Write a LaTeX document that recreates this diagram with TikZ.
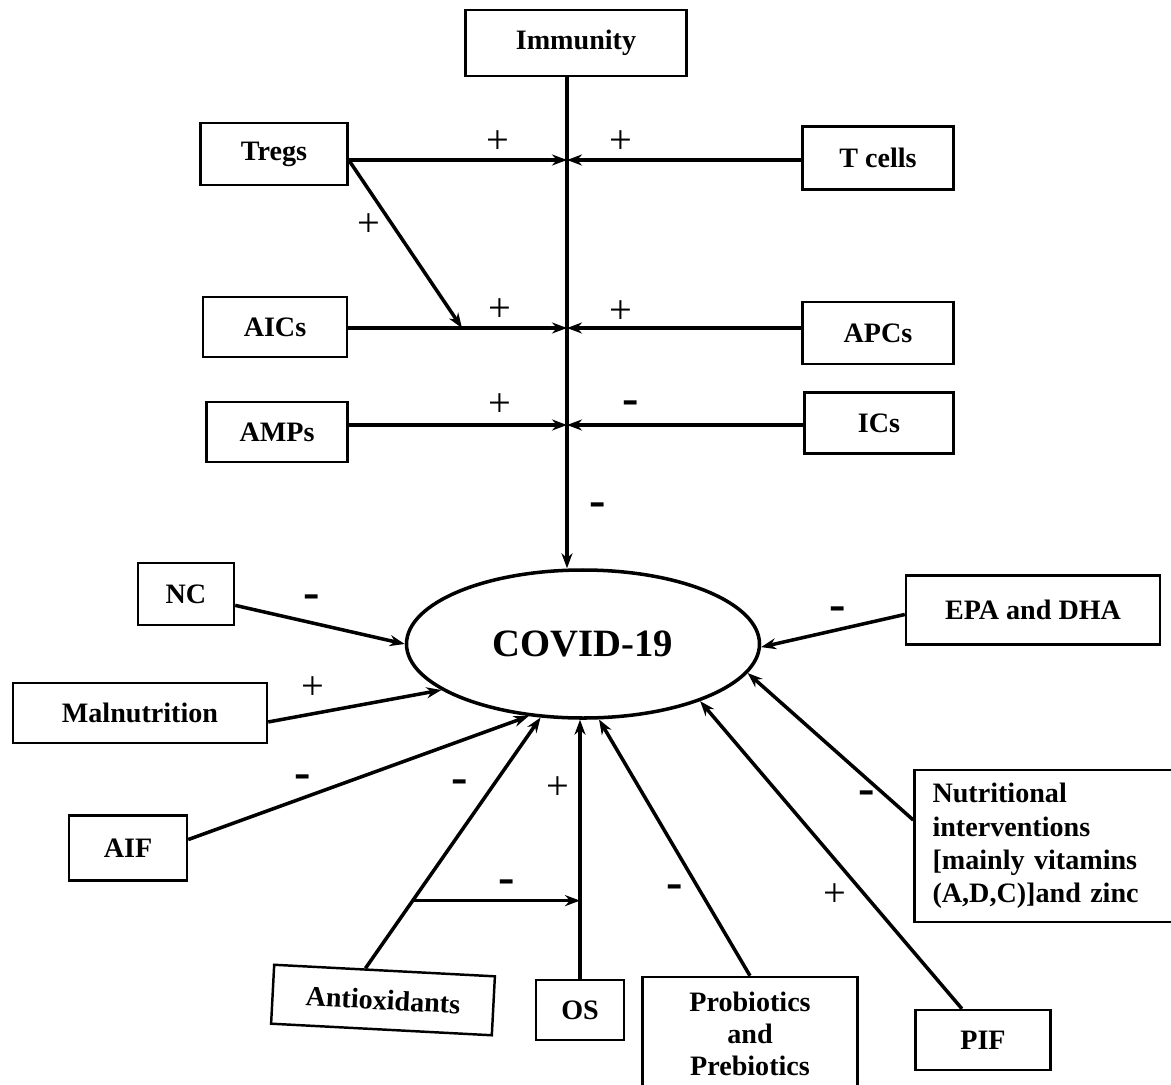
\documentclass[tikz,border=0pt]{standalone}
\usepackage{fontspec}
\setmainfont{Liberation Serif}
\usetikzlibrary{arrows.meta,shapes.geometric,calc}

\begin{document}
\begin{tikzpicture}[x=0.2mm,y=-0.2mm,every node/.style={font=\fontsize{16}{19}\selectfont\bfseries},
box/.style={draw,line width=1.4pt,inner sep=0pt,align=center},
arrow/.style={-{Stealth[length=3mm,width=2.2mm]},line width=2pt},
incr/.style={font=\fontsize{23}{23}\selectfont},
decr/.style={font=\fontsize{28}{28}\selectfont\bfseries}]
\useasboundingbox (0,0) rectangle (1171,1084);
% immune side
\node[box,minimum width=44.2mm,minimum height=13.2mm] (imm) at (576,43) {Immunity};
\node[box,minimum width=29.4mm,minimum height=12.4mm] (tregs) at (274,154) {Tregs};
\node[box,minimum width=30.2mm,minimum height=12.6mm] (tcells) at (878,158) {T cells};
\node[box,minimum width=28.8mm,minimum height=12mm] (aics) at (275,327) {AICs};
\node[box,minimum width=30.2mm,minimum height=12.4mm] (apcs) at (878,333) {APCs};
\node[box,minimum width=28.2mm,minimum height=12mm] (amps) at (277,432) {AMPs};
\node[box,minimum width=29.8mm,minimum height=12.2mm] (ics) at (879,423) {ICs};
\node[ellipse,draw,line width=2pt,inner sep=0pt,minimum width=70.6mm,minimum height=29.6mm,
  font=\fontsize{22}{26}\selectfont\bfseries] (covid) at (583,644) {COVID-19};
\coordinate (j1) at (567,160);
\coordinate (j2) at (567,328);
\coordinate (j3) at (567,425);
\coordinate (t2) at (462,328);
\draw[arrow,line width=2.4pt] (imm.south -| j1) -- (covid.north -| j1);
\draw[arrow] (tregs.east |- j1) -- (j1);\draw[arrow] (tcells.west |- j1) -- (j1);
\draw[arrow] (tregs.east |- j1) -- (t2);
\draw[arrow] (aics.east |- j2) -- (j2);\draw[arrow] (apcs.west |- j2) -- (j2);
\draw[arrow] (amps.east |- j3) -- (j3);\draw[arrow] (ics.west |- j3) -- (j3);
\node[incr] (s1) at (498,142) {+};
\node[incr] (s2) at (621,142) {+};
\node[incr] (s3) at (369,225) {+};
\node[incr] (s4) at (500,310) {+};
\node[incr] (s5) at (621,312) {+};
\node[incr] (s6) at (500,405) {+};
\node[decr] (s7) at (631,408) {-};
\node[decr] (s8) at (598,510) {-};
% nutrition side
\node[box,minimum width=19.2mm,minimum height=12.4mm] (nc) at (186,594) {NC};
\node[box,minimum width=50.8mm,minimum height=12mm] (mal) at (140,713) {Malnutrition};
\node[box,minimum width=23.6mm,minimum height=13mm] (aif) at (128,848) {AIF};
\node[box,minimum width=44.2mm,minimum height=11.8mm,rotate=-3] (anti) at (383,1000) {Antioxidants};
\node[box,minimum width=17.6mm,minimum height=12mm] (os) at (580,1010) {OS};
\node[box,minimum width=43mm,minimum height=22.8mm,font=\fontsize{16}{18.2}\selectfont\bfseries] (prob) at (750,1034)
  {Probiotics\\and\\Prebiotics};
\node[box,minimum width=27mm,minimum height=12mm] (pif) at (983,1040) {PIF};
\node[box,minimum width=53mm,minimum height=30.4mm,text width=45.8mm,align=left,inner xsep=3.6mm] (nutr) at (1047,846)
  {Nutritional\\interventions\\{[}mainly vitamins\\(A,D,C)]and zinc};
\node[box,minimum width=50.8mm,minimum height=13.8mm] (epa) at (1033,610) {EPA and DHA};
\draw[arrow] (nc.347) -- (covid.180);
\draw[arrow] (mal.356) -- (covid.198);
\draw[arrow] (aif.8) -- (covid.233);
\draw[arrow] (anti.122) -- (covid.240);
\draw[arrow] (os.north) -- (os.north |- covid.south);
\draw[arrow] (prob.north) -- (covid.282);
\draw[arrow] (pif.124) -- (covid.334);
\draw[arrow] (nutr.169) -- (covid.350);
\draw[arrow] (epa.182) -- (covid.359);
\coordinate (br) at ($(anti.122)!0.27!(covid.240)$);
\draw[arrow] (br) -- (br -| os.north);
\node[decr] (s9) at (312,602) {-};
\node[incr] (s10) at (313,688) {+};
\node[decr] (s11) at (303,782) {-};
\node[decr] (s12) at (460,787) {-};
\node[incr] (s13) at (558,788) {+};
\node[decr] (s14) at (507,887) {-};
\node[decr] (s15) at (675,892) {-};
\node[incr] (s16) at (835,895) {+};
\node[decr] (s17) at (867,798) {-};
\node[decr] (s18) at (838,614) {-};
\end{tikzpicture}
\end{document}
